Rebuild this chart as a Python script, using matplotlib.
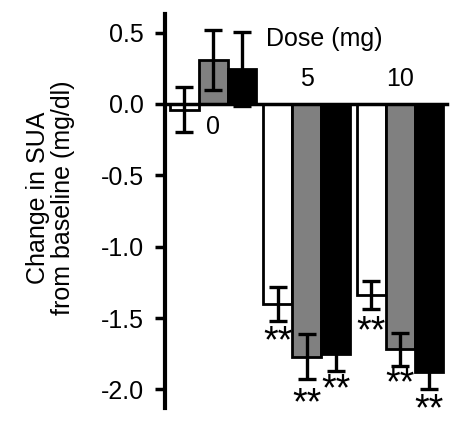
import matplotlib
matplotlib.use("Agg")
import matplotlib.pyplot as plt
import numpy as np

plt.rcParams['font.family'] = ['Liberation Sans', 'DejaVu Sans']

doses = ["0", "5", "10"]
fills = ["white", "#808080", "black"]

# mean change per dose, one list per bar colour
white_vals = [-0.04, -1.40, -1.34]
gray_vals = [0.31, -1.77, -1.72]
black_vals = [0.245, -1.75, -1.88]

white_err = [0.16, 0.12, 0.10]
gray_err = [0.21, 0.16, 0.115]
black_err = [0.26, 0.12, 0.12]

# which bars carry "**"
white_sig = [False, True, True]
gray_sig = [False, True, True]
black_sig = [False, True, True]
# where the stars sit
white_star = [None, -1.61, -1.54]
gray_star = [None, -2.05, -1.91]
black_star = [None, -1.95, -2.09]

fig = plt.figure(figsize=(4.72, 4.23), dpi=100)
ax = fig.add_axes([0.3496, 0.0355, 0.5975, 0.9315])

centers = np.arange(3) * 3.17 + 1.63
w = 0.98
series = [(white_vals, white_err, white_sig, white_star),
          (gray_vals, gray_err, gray_sig, gray_star),
          (black_vals, black_err, black_sig, black_star)]

fs = 18

for k, (vals, errs, sig, stars) in enumerate(series):
    xs = centers + (k - 1) * w
    ax.bar(xs, vals, width=w, color=fills[k], edgecolor="black",
           linewidth=2, zorder=2)
    ax.errorbar(xs, vals, yerr=errs, fmt="none", ecolor="black",
                elinewidth=2.4, capsize=6.5, capthick=2.4, zorder=3)
    for i in range(3):
        if sig[i]:
            ax.annotate("**", (xs[i], stars[i]), xytext=(0, -13),
                        textcoords="offset points", ha="center",
                        va="baseline", fontsize=27)

# dose labels above / below the zero line
ax.text(centers[0], -0.08, doses[0], ha="center", va="top", fontsize=fs)
ax.text(centers[1], 0.09, doses[1], ha="center", va="bottom", fontsize=fs)
ax.text(centers[2], 0.09, doses[2], ha="center", va="bottom", fontsize=fs)
ax.text(centers[1] + 0.6, 0.37, "Dose (mg)", ha="center", va="bottom",
        fontsize=fs)

ax.set_xlim(0, 9.56)
ax.set_ylim(-2.13, 0.63)
ax.set_yticks([0.5, 0.0, -0.5, -1.0, -1.5, -2.0])
ax.set_yticklabels(["0.5", "0.0", "-0.5", "-1.0", "-1.5", "-2.0"])
ax.tick_params(axis="y", labelsize=fs, length=7, width=2.5, pad=8)
ax.set_xticks([])

ax.spines["top"].set_visible(False)
ax.spines["right"].set_visible(False)
ax.spines["left"].set_linewidth(3)
ax.spines["bottom"].set_position(("data", 0))
ax.spines["bottom"].set_linewidth(2.5)
ax.spines["bottom"].set_zorder(4)

ax.set_ylabel("Change in SUA\nfrom baseline (mg/dl)", fontsize=fs,
              linespacing=1.05)
ax.yaxis.set_label_coords(-0.319, 0.534)

fig.savefig("out.png", dpi=100)
